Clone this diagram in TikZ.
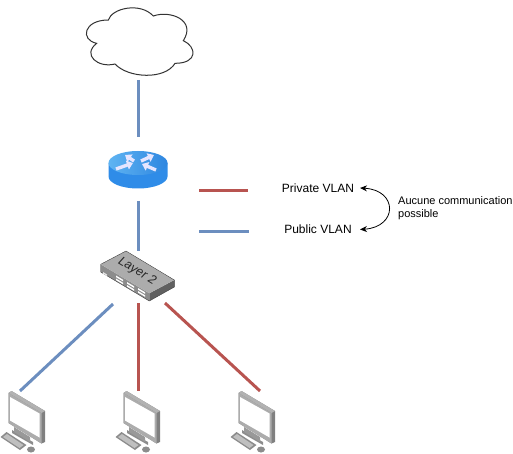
\documentclass[tikz,border=0pt]{standalone}
\usepackage{fontspec}
\setmainfont{Liberation Sans}
\usetikzlibrary{arrows.meta}
\definecolor{vlanblue}{HTML}{6C8EBF}
\definecolor{vlanred}{HTML}{B85450}
\definecolor{routerdark}{HTML}{2F8CE8}
\definecolor{routermid}{HTML}{8FD0FA}
\definecolor{routertop}{HTML}{5FB4F2}
\definecolor{routertopdark}{HTML}{2E86E0}
\tikzset{
  icon/.style={minimum width=#1, inner sep=0pt, outer sep=0pt},
  vlanpublic/.style={vlanblue, line width=3pt},
  vlanprivate/.style={vlanred, line width=3pt},
  legend/.style={font=\fontsize{12}{14}\selectfont, minimum width=84pt, inner sep=0pt, outer sep=0pt},
  rarrow/.style={white!90!blue, line width=3.4pt, -{Triangle[length=6pt,width=9pt]}},
  cloudicon/.pic={
    \draw[black!80, line width=1pt, fill=white] (100,60) .. controls (110,25) and (195,5) .. (235,48)
      .. controls (285,30) and (365,60) .. (325,122)
      .. controls (365,140) and (370,190) .. (300,190)
      .. controls (270,240) and (160,235) .. (120,192)
      .. controls (70,205) and (20,165) .. (65,130)
      .. controls (15,120) and (25,60) .. cycle;
  },
  routericon/.pic={
    \shade[left color=routerdark, middle color=routermid, right color=routerdark]
      (-29.5,-6) -- (-29.5,7.5) arc[start angle=180, end angle=0, x radius=29.5, y radius=12] -- (29.5,-6) -- cycle;
    \shade[left color=routertop, right color=routertopdark] (0,-6) ellipse[x radius=29.5, y radius=12];
    \draw[rarrow] (-22,0) -- (-5,-6);
    \draw[rarrow] (18,1) -- (4,-5);
    \draw[rarrow] (-4,-8) -- (-13,-14);
    \draw[rarrow] (3,-8) -- (16,-14);
  },
  switchicon/.pic={
    \fill[gray!90] (100.7,264.3) -- (149.3,293.3) -- (149.3,301) -- (100.7,272) -- cycle;
    \fill[gray!75!black] (149.3,293.3) -- (174.3,280) -- (174.3,287) -- (149.3,301) -- cycle;
    \fill[gray!65] (126,251) -- (174.3,280) -- (149.3,293.3) -- (100.7,264.3) -- cycle;
    \draw[gray!50!black, line width=.4pt] (126,251) -- (174.3,280) -- (174.3,287) -- (149.3,301) -- (100.7,272) -- (100.7,264.3) -- cycle;
    \foreach \px/\py in {116/275.5, 127/282, 138/288}{
      \fill[white] (\px,\py) -- ++(7,4.2) -- ++(0,1.6) -- ++(-7,-4.2) -- cycle;
      \fill[white] (\px,\py+3) -- ++(7,4.2) -- ++(0,1.6) -- ++(-7,-4.2) -- cycle;
    }
    \fill[gray!20] (103,272) -- (107,274.4) -- (107,276) -- (103,273.6) -- cycle;
  },
  pcicon/.pic={
    % stand
    \fill[gray!90] (12,50) -- (33,62) -- (33,65) -- (12,53) -- cycle;
    \fill[gray!80] (14,47) -- (30,57) -- (30,62) -- (14,52) -- cycle;
    % monitor
    \fill[gray] (8.5,13) -- (11.5,11) -- (45,31) -- (45,62) -- (41.5,63.5) -- (8.5,43) -- cycle;
    \fill[gray!60] (8.5,13) -- (11.5,11) -- (45,31) -- (41.5,33) -- cycle;
    \fill[gray!65] (8.5,13) -- (41.5,33) -- (41.5,63.5) -- (8.5,43) -- cycle;
    \fill[white] (10,17) -- (39.5,33.5) -- (39.5,57.5) -- (10,40.5) -- cycle;
    % keyboard
    \fill[gray!90] (0.5,57) -- (6.5,52) -- (26.5,65) -- (20,70) -- cycle;
    \fill[gray!50] (3,57) -- (7,54) -- (23.5,65) -- (19.5,68) -- cycle;
    % mouse
    \fill[gray!90] (31,69.5) ellipse[x radius=4, y radius=3];
  },
}
\begin{document}
\begin{tikzpicture}[x=1pt, y=-1pt]
  \useasboundingbox (0,0) rectangle (513,454);

  %icons
  \node[icon=120pt, minimum height=80pt] (cloud) at (138,40) {};
  \node[icon=60pt, minimum height=64pt] (router) at (138,169) {};
  \node[icon=76pt, minimum height=52pt] (switch) at (138,277) {};
  \pic[scale=1/3] at (75,0) {cloudicon};
  \pic at (router) {routericon};
  \pic at (0,0) {switchicon};
  \node[rotate=-31, font=\fontsize{12.5}{14}\itshape, text=black!85] (layer) at (137,271.5) {Layer 2};
  \pic at (0,380) {pcicon};
  \pic at (115,380) {pcicon};
  \pic at (230,380) {pcicon};

  %ports
  \coordinate (swleft) at (113,304);
  \coordinate (swright) at (165,303);
  \coordinate (pcleft) at (20,391);
  \coordinate (pcmid) at (138,391);
  \coordinate (pcright) at (260,391);

  %links
  \draw[vlanpublic] (cloud) -- (router);
  \draw[vlanpublic] (router) -- (switch);
  \draw[vlanpublic] (swleft) -- (pcleft);
  \draw[vlanprivate] (switch) -- (pcmid);
  \draw[vlanprivate] (swright) -- (pcright);

  %legend
  \node[legend] (private) at (318,188) {Private VLAN};
  \node[legend] (public) at (318,229.5) {Public VLAN};
  \coordinate (redstart) at (199,191);
  \coordinate (redend) at (248,191);
  \coordinate (bluestart) at (199,231);
  \coordinate (blueend) at (249,231);
  \draw[vlanprivate] (redstart) -- (redend);
  \draw[vlanpublic] (bluestart) -- (blueend);
  \draw[{Stealth[length=7pt,width=6pt]}-{Stealth[length=7pt,width=6pt]}, line width=.8pt] (private.east) .. controls (398,190) and (398,227) .. (public.east);
  \node[font=\fontsize{11}{13.2}\selectfont, align=left, anchor=west, inner sep=0pt] (nocomm) at (398,208.5) {Aucune communication\\possible};
\end{tikzpicture}
\end{document}
